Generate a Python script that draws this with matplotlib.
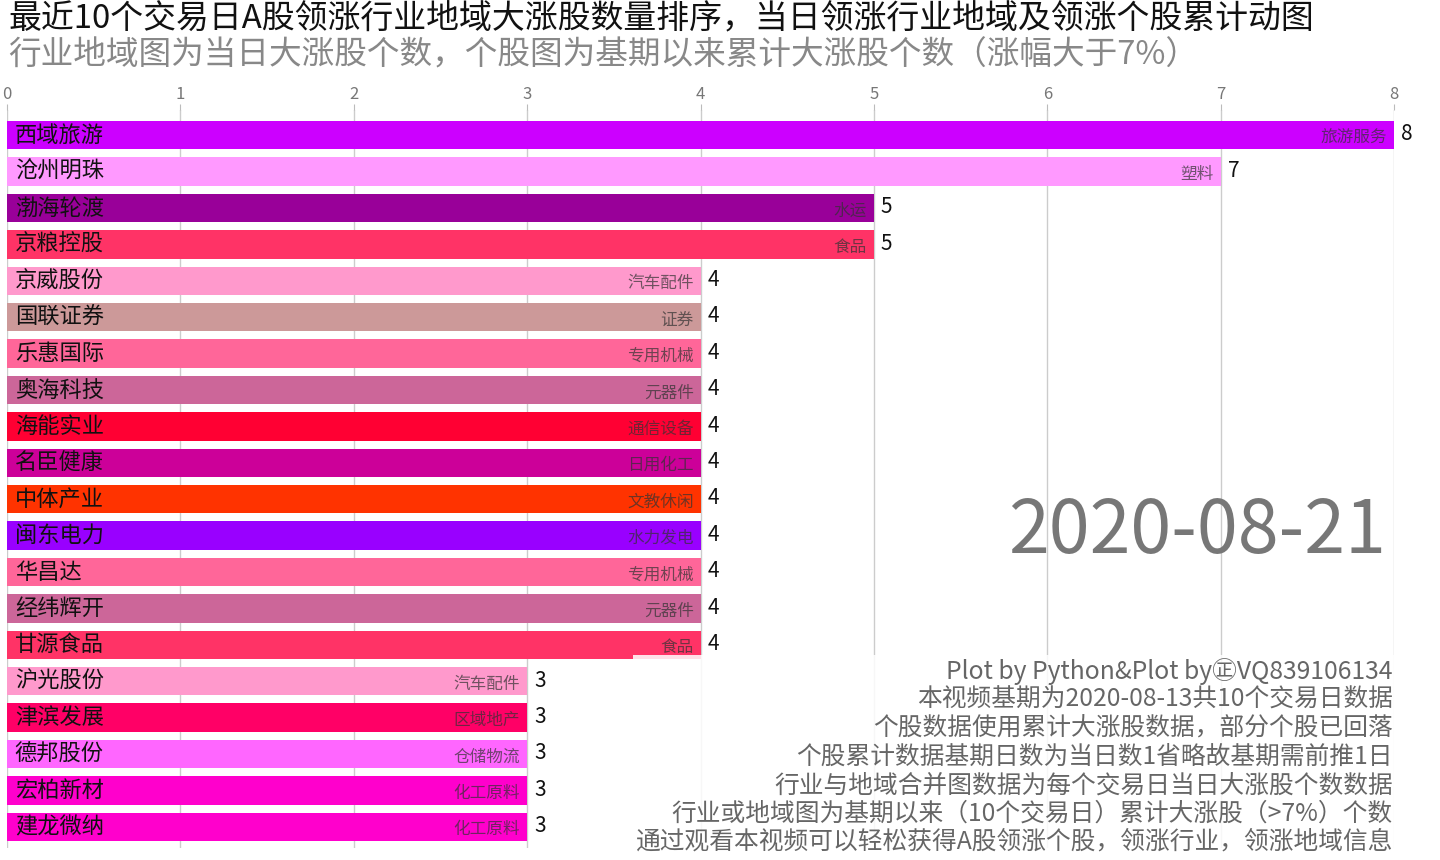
import matplotlib
matplotlib.use("Agg")
import matplotlib.pyplot as plt

plt.rcParams['font.family'] = ['Noto Sans CJK SC', 'DejaVu Sans']

# -----------------------------
# data (read from the reference frame)
# -----------------------------
stocks = ["西域旅游", "沧州明珠", "渤海轮渡", "京粮控股", "京威股份", "国联证券",
          "乐惠国际", "奥海科技", "海能实业", "名臣健康", "中体产业", "闽东电力",
          "华昌达", "经纬辉开", "甘源食品", "沪光股份", "津滨发展", "德邦股份",
          "宏柏新材", "建龙微纳"]
industries = ["旅游服务", "塑料", "水运", "食品", "汽车配件", "证券",
              "专用机械", "元器件", "通信设备", "日用化工", "文教休闲", "水力发电",
              "专用机械", "元器件", "食品", "汽车配件", "区域地产", "仓储物流",
              "化工原料", "化工原料"]
counts = [8, 7, 5, 5, 4, 4, 4, 4, 4, 4, 4, 4, 4, 4, 4, 3, 3, 3, 3, 3]
colors = ["#CC00FF", "#FF99FF", "#990099", "#FF3366", "#FF99CC", "#CC9999",
          "#FF6699", "#CC6699", "#FF0033", "#CC0099", "#FF3300", "#9900FF",
          "#FF6699", "#CC6699", "#FF3366", "#FF99CC", "#FF0066", "#FF66FF",
          "#FF00CC", "#FF00CC"]
xticks = [0, 1, 2, 3, 4, 5, 6, 7, 8]

date_label = "2020-08-21"
title = "最近10个交易日A股领涨行业地域大涨股数量排序，当日领涨行业地域及领涨个股累计动图"
subtitle = "行业地域图为当日大涨股个数，个股图为基期以来累计大涨股个数（涨幅大于7%）"
notes = ["Plot by Python&Plot by㊣VQ839106134",
         "本视频基期为2020-08-13共10个交易日数据",
         "个股数据使用累计大涨股数据，部分个股已回落",
         "个股累计数据基期日数为当日数1省略故基期需前推1日",
         "行业与地域合并图数据为每个交易日当日大涨股个数数据",
         "行业或地域图为基期以来（10个交易日）累计大涨股（>7%）个数",
         "通过观看本视频可以轻松获得A股领涨个股，领涨行业，领涨地域信息"]

# -----------------------------
# figure
# -----------------------------
fig = plt.figure(figsize=(14.4, 8.6), dpi=100)
ax = fig.add_axes([7 / 1440, 1 - 848 / 860, (1394 - 7) / 1440, (848 - 110) / 860])

ypos = list(range(len(stocks)))
ax.barh(ypos, counts, height=0.78, color=colors, zorder=2)

for y, name, ind, v in zip(ypos, stocks, industries, counts):
    ax.text(0.045, y, name, ha="left", va="center", fontsize=16, color="#111111", zorder=3)
    ax.text(v - 0.04, y + 0.08, ind, ha="right", va="center", fontsize=12,
            color="#333333", alpha=0.7, zorder=3)
    ax.text(v + 0.04, y - 0.02, str(v), ha="left", va="center", fontsize=15,
            color="#111111", zorder=3)

ax.set_xlim(0, 8)
ax.set_ylim(19.58, -0.69)
ax.set_xticks(xticks)
ax.xaxis.tick_top()
ax.tick_params(axis="x", length=4, color="#bbbbbb", labelsize=12, labelcolor="#777777", pad=1)
ax.set_yticks([])
ax.grid(axis="x", color="#cccccc", linewidth=1)
ax.set_axisbelow(True)
for s in ax.spines.values():
    s.set_visible(False)

fig.text(8 / 1440, 1 - 3 / 860, title, ha="left", va="top", fontsize=23.7, color="#111111")
fig.text(8 / 1440, 1 - 39 / 860, subtitle, ha="left", va="top", fontsize=23.5, color="#888888")

fig.text(1386 / 1440, 1 - 532 / 860, date_label, ha="right", va="center",
         fontsize=53, color="#777777")

fig.text(1393 / 1440, 1 - 855 / 860, "\n".join(notes), ha="right", va="bottom",
         fontsize=17.8, color="#666666", linespacing=1.12,
         bbox=dict(facecolor="white", edgecolor="none", alpha=0.85, pad=2))

fig.savefig("out.png", dpi=100)
